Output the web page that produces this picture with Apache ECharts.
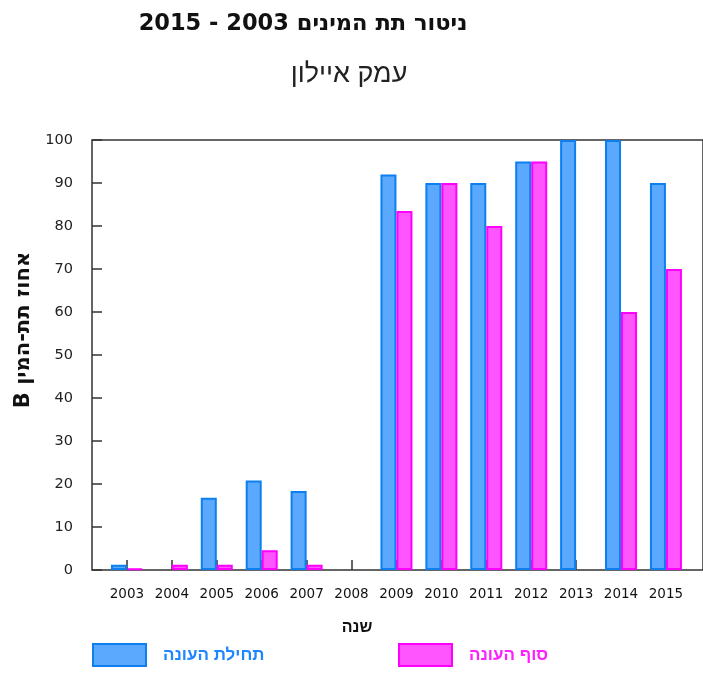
<!DOCTYPE html>
<html>
<head>
<meta charset="utf-8">
<script src="https://cdn.jsdelivr.net/npm/echarts@6/dist/echarts.min.js"></script>
<style>
  html, body { margin: 0; padding: 0; background: #fff; }
  #chart { width: 703px; height: 675px; }
</style>
</head>
<body>
<div id="chart" dir="rtl"></div>
<script>
  // שנים
  var years = ['2003', '2004', '2005', '2006', '2007', '2008', '2009', '2010', '2011', '2012', '2013', '2014', '2015']
  // תחילת העונה
  var startSeason = [1.2, null, 16.8, 20.8, 18.4, null, 92, 90, 90, 95, 100, 100, 90]
  // סוף העונה
  var endSeason = [0.3, 1.2, 1.2, 4.6, 1.2, null, 83.5, 90, 80, 95, null, 60, 70]
  var yTicks = [0, 10, 20, 30, 40, 50, 60, 70, 80, 90, 100]

  var hebFont = 'Liberation Sans'

  var myChart = echarts.init(document.getElementById('chart'))

  var option = {
    backgroundColor: '#fff',
    animation: false,
    title: [
      {
        text: 'ניטור תת המינים 2003 - 2015',
        left: 298,
        top: 8,
        textAlign: 'center',
        textStyle: { fontFamily: 'DejaVu Sans', fontWeight: 'bold', fontSize: 22.5, color: '#111' }
      },
      {
        text: 'עמק איילון',
        left: 344,
        top: 56,
        textAlign: 'center',
        textStyle: { fontFamily: hebFont, fontWeight: 'normal', fontSize: 27, color: '#222' }
      }
    ],
    legend: [
      {
        left: 92,
        top: 643,
        padding: 0,
        itemWidth: 53,
        itemHeight: 22,
        icon: 'rect',
        data: [{ name: 'תחילת העונה', textStyle: { color: '#1e86ff' } }],
        textStyle: { fontFamily: hebFont, fontWeight: 'bold', fontSize: 17, padding: [0, 0, 0, 12] }
      },
      {
        left: 398,
        top: 643,
        padding: 0,
        itemWidth: 53,
        itemHeight: 22,
        icon: 'rect',
        data: [{ name: 'סוף העונה', textStyle: { color: '#ff20ff' } }],
        textStyle: { fontFamily: hebFont, fontWeight: 'bold', fontSize: 17, padding: [0, 0, 0, 12] }
      }
    ],
    graphic: [
      {
        type: 'text',
        x: 24,
        y: 330,
        rotation: Math.PI / 2,
        style: {
          text: 'אחוז תת-המין B',
          fontFamily: 'DejaVu Sans',
          fontWeight: 'bold',
          fontSize: 21,
          fill: '#111',
          textAlign: 'center',
          textVerticalAlign: 'middle'
        }
      },
      {
        type: 'text',
        x: 357,
        y: 628,
        style: {
          text: 'שנה',
          fontFamily: hebFont,
          fontWeight: 'bold',
          fontSize: 16,
          fill: '#111',
          textAlign: 'center',
          textVerticalAlign: 'middle'
        }
      }
    ],
    grid: [
      { left: 104.5, right: 14.6, top: 140, bottom: 105 },
      // מסגרת
      { left: 92, right: -5, top: 140, bottom: 105, show: true, borderColor: '#333', borderWidth: 1.5, backgroundColor: 'transparent', z: 0 }
    ],
    xAxis: [
      {
        type: 'category',
        gridIndex: 0,
        data: years,
        axisLine: { show: false },
        axisTick: { show: true, inside: true, alignWithLabel: true, length: 10, lineStyle: { color: '#333', width: 1.5 } },
        axisLabel: { fontFamily: 'DejaVu Sans', fontSize: 13.5, color: '#111', margin: 17, interval: 0 }
      },
      { type: 'category', gridIndex: 1, show: false, data: years }
    ],
    yAxis: [
      {
        type: 'value',
        gridIndex: 0,
        min: 0,
        max: 100,
        interval: 10,
        offset: 12.5,
        axisLine: { show: false },
        axisTick: { show: true, inside: true, length: 10, lineStyle: { color: '#333', width: 1.5 } },
        axisLabel: {
          fontFamily: 'DejaVu Sans', fontSize: 14.5, color: '#222', margin: 19,
          formatter: function (v) { return yTicks.indexOf(v) >= 0 ? String(v) : '' }
        },
        splitLine: { show: false }
      },
      { type: 'value', gridIndex: 1, show: false, min: 0, max: 100 }
    ],
    series: [
      {
        name: 'תחילת העונה',
        type: 'bar',
        data: startSeason,
        barWidth: 16,
        barGap: '0%',
        itemStyle: { color: '#5aa9ff', borderColor: '#0d7fef', borderWidth: 2 }
      },
      {
        name: 'סוף העונה',
        type: 'bar',
        data: endSeason,
        barWidth: 16,
        barGap: '0%',
        itemStyle: { color: '#ff55ff', borderColor: '#ff00ff', borderWidth: 2 }
      }
    ]
  }
  myChart.setOption(option)
</script>
</body>
</html>
